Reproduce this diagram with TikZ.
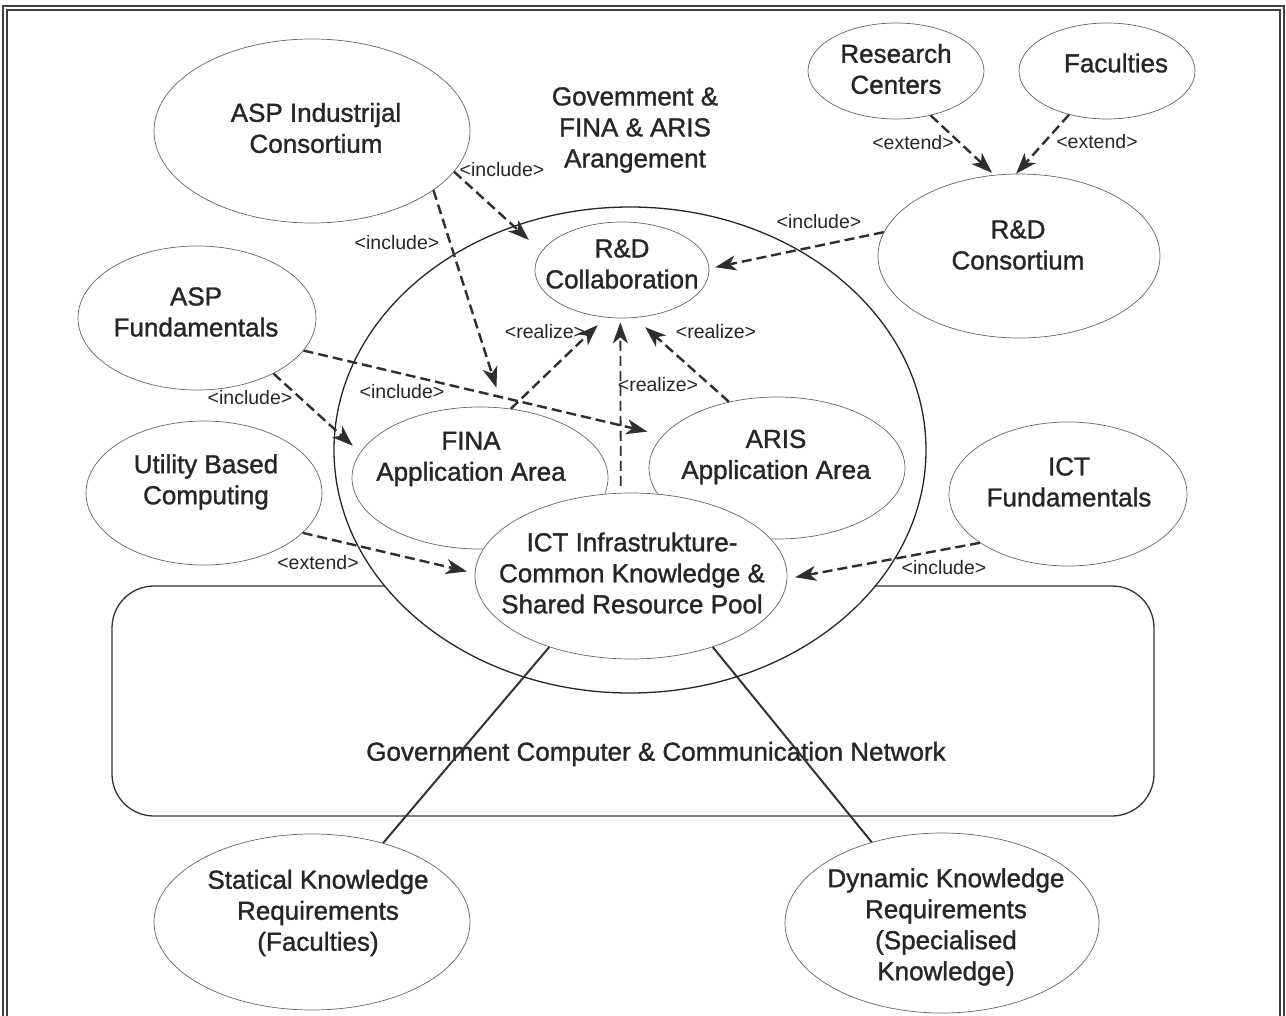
\documentclass[tikz,border=0pt]{standalone}
\usepackage{fontspec}
\setmainfont{Liberation Sans}
\newfontfamily\ucfont{Liberation Sans}[FakeBold=1.2]
\usetikzlibrary{shapes.geometric,arrows.meta}
\tikzset{
  uc/.style={ellipse,draw=black!60,line width=0.7pt,fill=white,inner sep=0pt},
  txt/.style={align=center,text=black!85,font=\ucfont\fontsize{26}{31}\selectfont},
  lbl/.style={text=black!85,font=\fontsize{19.5}{22}\selectfont,inner sep=0pt},
  dep/.style={draw=black!82,line width=2.4pt,dash pattern=on 10pt off 5pt,
    -{Stealth[length=21pt,width=15pt,inset=6pt]}},
  wire/.style={draw=black!80,line width=2pt},
}
\begin{document}
\begin{tikzpicture}[x=1pt,y=-1pt]
  \useasboundingbox (0,0) rectangle (1286,1016);
  \draw[black!75,line width=1.8pt] (3,6) rectangle (1284,1040);
  \draw[black!75,line width=1.2pt] (7,10) rectangle (1280,1040);

  \node[draw=black!80,line width=1.3pt,rounded corners=42pt,minimum width=1042pt,minimum height=230pt] (net) at (633,701) {};
  \node[txt] (net-t) at (656,754) {Government Computer \& Communication Network};
  \node[ellipse,draw=black!85,line width=1.3pt,fill=white,inner sep=0pt,minimum width=592pt,minimum height=486pt] (core) at (630,450) {};

  \node[uc,minimum width=316pt,minimum height=184pt] (aspind) at (312,131) {};
  \node[uc,minimum width=176pt,minimum height=96pt] (rescen) at (896,71) {};
  \node[uc,minimum width=176pt,minimum height=96pt] (fac) at (1107,71) {};
  \node[uc,minimum width=282pt,minimum height=164pt] (rdcons) at (1019,256) {};
  \node[uc,minimum width=238pt,minimum height=144pt] (aspfund) at (197,318) {};
  \node[uc,minimum width=174pt,minimum height=96pt] (rdcoll) at (622,270) {};
  \node[uc,minimum width=236pt,minimum height=144pt] (util) at (204,493) {};
  \node[uc,minimum width=238pt,minimum height=144pt] (ictfund) at (1068,494) {};
  \node[uc,minimum width=256pt,minimum height=142pt] (fina) at (480,478) {};
  \node[uc,minimum width=256pt,minimum height=142pt] (aris) at (777,468) {};
  \node[uc,minimum width=312pt,minimum height=166pt] (ict) at (631,576) {};
  \node[uc,minimum width=316pt,minimum height=176pt] (stat) at (312,922) {};
  \node[uc,minimum width=314pt,minimum height=180pt] (dyn) at (942,923) {};

  \node[txt] (aspind-t) at (316,128) {ASP Industrijal\\Consortium};
  \node[txt] (arang-t) at (635,130) {Govemment \&\\FINA \& ARIS\\Arangement};
  \node[txt] (rescen-t) at (896,69) {Research\\Centers};
  \node[txt] (fac-t) at (1116,63) {Faculties};
  \node[txt] (rdcons-t) at (1018,245) {R\&D\\Consortium};
  \node[txt] (aspfund-t) at (196,312) {ASP\\Fundamentals};
  \node[txt] (rdcoll-t) at (622,264) {R\&D\\Collaboration};
  \node[txt] (util-t) at (206,482) {Utility Based\\Computing};
  \node[txt] (ictfund-t) at (1069,482) {ICT\\Fundamentals};
  \node[txt] (fina-t) at (471,459) {FINA\\Application Area};
  \node[txt] (aris-t) at (776,457) {ARIS\\Application Area};
  \node[txt] (ict-t) at (632,573) {ICT Infrastrukture-\\Common Knowledge \&\\Shared Resource Pool};
  \node[txt] (stat-t) at (318,913) {Statical Knowledge\\Requirements\\(Faculties)};
  \node[txt] (dyn-t) at (946,927) {Dynamic Knowledge\\Requirements\\(Specialised\\Knowledge)};

  \draw[dep,shorten >=17pt] (aspind.-16) -- (rdcoll.167);
  \draw[dep,shorten >=21pt] (aspind.-26) -- (fina.72);
  \draw[dep,shorten >=16pt] (aspfund.-17) -- (aris.164);
  \draw[dep,shorten >=10pt] (aspfund.-36) -- (fina.168);
  \draw[dep,shorten >=11pt] (fina.66) -- (rdcoll.-109);
  \draw[dep,line width=1.8pt,shorten <=7pt,shorten >=4pt] (ict.97.5) -- (rdcoll.-92);
  \draw[dep,shorten >=14pt] (aris.126) -- (rdcoll.-75);
  \draw[dep,shorten >=6pt] (rdcons.170) -- (rdcoll.1);
  \draw[dep,shorten >=3pt] (rescen.-52) -- (rdcons.107);
  \draw[dep] (fac.-131) -- (rdcons.92);
  \draw[dep,shorten >=8pt] (util.-22) -- (ict.179);
  \draw[dep,shorten >=8pt] (ictfund.209) -- (ict.-1);
  \draw[wire] (ict.-139) -- (stat.48);
  \draw[wire] (ict.-41) -- (dyn.131);

  \node[lbl] (inc1) at (502,170) {<include>};
  \node[lbl] (inc2) at (397,243) {<include>};
  \node[lbl] (inc3) at (250,398) {<include>};
  \node[lbl] (inc4) at (402,392) {<include>};
  \node[lbl] (inc5) at (819,222) {<include>};
  \node[lbl] (inc6) at (944,568) {<include>};
  \node[lbl] (rea1) at (545,332) {<realize>};
  \node[lbl] (rea2) at (658,385) {<realize>};
  \node[lbl] (rea3) at (716,332) {<realize>};
  \node[lbl] (ext1) at (913,143) {<extend>};
  \node[lbl] (ext2) at (1097,142) {<extend>};
  \node[lbl] (ext3) at (318,563) {<extend>};
\end{tikzpicture}
\end{document}
